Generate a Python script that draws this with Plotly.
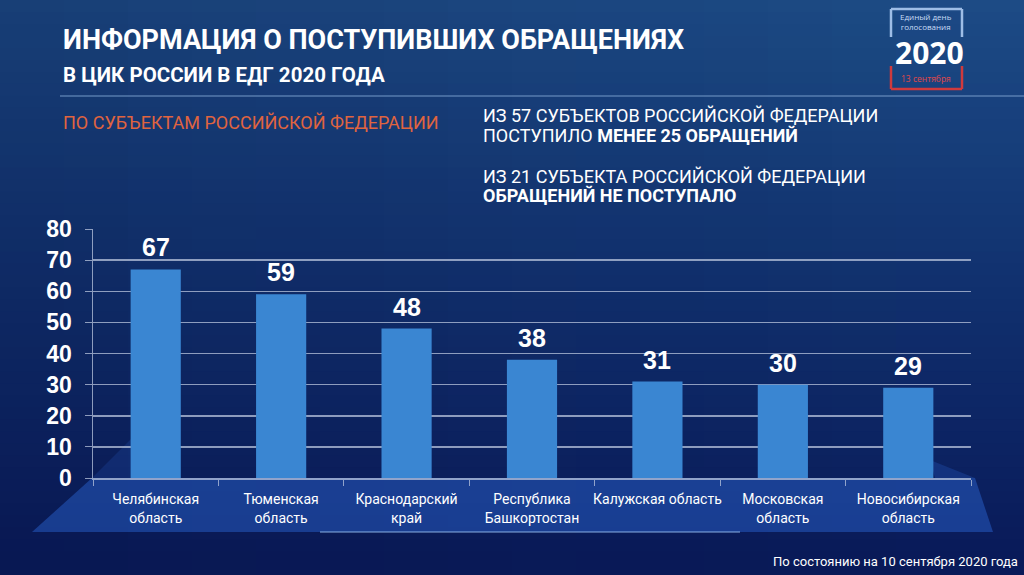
import plotly.graph_objects as go

# ---------------- data ----------------
regions = ["Челябинская<br>область", "Тюменская<br>область", "Краснодарский<br>край",
           "Республика<br>Башкортостан", "Калужская область", "Московская<br>область",
           "Новосибирская<br>область"]
appeals = [67, 59, 48, 38, 31, 30, 29]
y_ticks = [0, 10, 20, 30, 40, 50, 60, 70, 80]

title_main = "ИНФОРМАЦИЯ О ПОСТУПИВШИХ ОБРАЩЕНИЯХ"
title_sub = "В ЦИК РОССИИ В ЕДГ 2020 ГОДА"
subtitle_left = "ПО СУБЪЕКТАМ РОССИЙСКОЙ ФЕДЕРАЦИИ"
note_1a = "ИЗ 57 СУБЪЕКТОВ РОССИЙСКОЙ ФЕДЕРАЦИИ"
note_1b = "ПОСТУПИЛО <b>МЕНЕЕ 25 ОБРАЩЕНИЙ</b>"
note_2a = "ИЗ 21 СУБЪЕКТА РОССИЙСКОЙ ФЕДЕРАЦИИ"
note_2b = "<b>ОБРАЩЕНИЙ НЕ ПОСТУПАЛО</b>"
footnote = "По состоянию на 10 сентября 2020 года"
logo_top = "Единый день<br>голосования"
logo_year = "2020"
logo_date = "13 сентября"

# ---------------- layout geometry ----------------
W, H = 1024, 575
L, R, T, B = 93, 971, 229, 478

def px(x):
    return (x - L) / (R - L)

def py(y):
    return (B - y) / (B - T)

NARROW = "Roboto, Liberation Sans Narrow, sans-serif"
ARIAL = "Liberation Sans, Arial, sans-serif"

fig = go.Figure()
fig.add_trace(go.Bar(
    x=regions, y=appeals,
    marker=dict(color="#3a86d2", line=dict(width=0)),
    width=0.4,
    hoverinfo="skip",
))

shapes = []
# background gradient (vertical bands)
top_c = (30, 77, 135)
mid_c = (18, 50, 112)
bot_c = (10, 27, 90)
n = 48
for i in range(n):
    t = i / (n - 1)
    if t < 0.5:
        u = t / 0.5
        c = tuple(int(top_c[k] + (mid_c[k] - top_c[k]) * u) for k in range(3))
    else:
        u = (t - 0.5) / 0.5
        c = tuple(int(mid_c[k] + (bot_c[k] - mid_c[k]) * u) for k in range(3))
    y0 = H * i / n
    y1 = H * (i + 1) / n + 1
    shapes.append(dict(type="rect", xref="paper", yref="paper",
                       x0=px(0), x1=px(W), y0=py(y1), y1=py(y0),
                       fillcolor="rgb(%d,%d,%d)" % c, line=dict(width=0), layer="below"))
# horizontal darkening toward the left
m = 16
for i in range(m):
    a = 0.22 * (1 - i / m)
    shapes.append(dict(type="rect", xref="paper", yref="paper",
                       x0=px(W * i / m), x1=px(W * (i + 1) / m), y0=py(H), y1=py(0),
                       fillcolor="rgba(5,15,60,%.3f)" % a, line=dict(width=0), layer="below"))

def path(pts):
    return "M " + " L ".join("%f,%f" % (px(a), py(b)) for a, b in pts) + " Z"

# floor trapezoid
shapes.append(dict(type="path", xref="paper", yref="paper",
                   path=path([(32, 532), (92, 478), (975, 478), (993, 532)]),
                   fillcolor="rgba(45,105,215,0.45)", line=dict(width=0), layer="below"))
shapes.append(dict(type="path", xref="paper", yref="paper",
                   path=path([(92, 478), (140, 430), (160, 478)]),
                   fillcolor="rgba(45,105,215,0.18)", line=dict(width=0), layer="below"))
shapes.append(dict(type="path", xref="paper", yref="paper",
                   path=path([(930, 460), (975, 478), (935, 478)]),
                   fillcolor="rgba(45,105,215,0.25)", line=dict(width=0), layer="below"))
shapes.append(dict(type="line", xref="paper", yref="paper",
                   x0=px(320), x1=px(740), y0=py(532), y1=py(532),
                   line=dict(color="rgba(150,190,240,0.45)", width=2), layer="below"))
# header separator
shapes.append(dict(type="line", xref="paper", yref="paper",
                   x0=px(60), x1=px(W), y0=py(96), y1=py(96),
                   line=dict(color="rgba(140,175,220,0.55)", width=1.5), layer="below"))
# logo frame
blue_l = "#9ebde6"
red_l = "#cf3a3d"
shapes += [
    dict(type="line", xref="paper", yref="paper", x0=px(891), x1=px(962), y0=py(9), y1=py(9),
         line=dict(color=blue_l, width=2.5)),
    dict(type="line", xref="paper", yref="paper", x0=px(891), x1=px(891), y0=py(9), y1=py(37),
         line=dict(color=blue_l, width=2.5)),
    dict(type="line", xref="paper", yref="paper", x0=px(962), x1=px(962), y0=py(9), y1=py(37),
         line=dict(color=blue_l, width=2.5)),
    dict(type="line", xref="paper", yref="paper", x0=px(891), x1=px(891), y0=py(66), y1=py(89),
         line=dict(color=red_l, width=2.5)),
    dict(type="line", xref="paper", yref="paper", x0=px(962), x1=px(962), y0=py(66), y1=py(89),
         line=dict(color=red_l, width=2.5)),
    dict(type="line", xref="paper", yref="paper", x0=px(891), x1=px(962), y0=py(89), y1=py(89),
         line=dict(color=red_l, width=2.5)),
]

ann = []

def txt(text, x, y, size, color="white", family=NARROW, xanchor="left", yanchor="middle"):
    ann.append(dict(text=text, xref="paper", yref="paper", x=px(x), y=py(y),
                    xanchor=xanchor, yanchor=yanchor, showarrow=False, borderpad=0,
                    font=dict(size=size, color=color, family=family)))

txt("<b>" + title_main + "</b>", 62, 40, 27)
txt("<b>" + title_sub + "</b>", 62, 75, 20.5)
txt(subtitle_left, 62, 122, 18, color="#e0643f")
txt(note_1a, 482, 116, 18)
txt(note_1b, 482, 135, 18)
txt(note_2a, 482, 176, 18)
txt(note_2b, 482, 196, 18)
txt(footnote, 1019, 561, 13, xanchor="right")
# logo text
LF = "Open Sans, sans-serif"
txt(logo_top, 926, 21, 8, color="#c8dcf5", family=LF, xanchor="center")
txt("<b>" + logo_year + "</b>", 929, 52, 30, family=LF, xanchor="center")
txt(logo_date, 926, 78, 8.5, color="#e0474a", family=LF, xanchor="center")

# value labels
for cat, v in zip(regions, appeals):
    ann.append(dict(text="<b>%d</b>" % v, x=cat, y=v, xref="x", yref="y",
                    yanchor="bottom", yshift=6, showarrow=False,
                    font=dict(size=25, color="white", family=ARIAL)))

grid_c = "rgba(185,198,222,0.75)"
fig.update_layout(
    width=W, height=H,
    margin=dict(l=L, r=W - R, t=T, b=H - B, pad=0),
    paper_bgcolor="#133470",
    plot_bgcolor="rgba(0,0,0,0)",
    showlegend=False,
    shapes=shapes,
    annotations=ann,
    xaxis=dict(
        type="category",
        tickson="boundaries",
        ticks="outside", ticklen=6, tickcolor=grid_c,
        showline=True, linecolor=grid_c, linewidth=1.5,
        showgrid=False,
        tickangle=0,
        ticklabelstandoff=8,
        tickfont=dict(size=14, color="white", family=NARROW),
        fixedrange=True,
    ),
    yaxis=dict(
        range=[0, 80],
        tickvals=y_ticks,
        ticks="outside", ticklen=7, tickcolor=grid_c,
        showgrid=True, gridcolor=grid_c, gridwidth=1.5,
        showline=True, linecolor=grid_c, linewidth=1.5,
        zeroline=False,
        tickfont=dict(size=23, color="white", family=ARIAL, weight="bold"),
        ticklabelstandoff=8,
        fixedrange=True,
    ),
)
fig.update_traces(cliponaxis=False)

fig.write_html("out.html",
               config={"displayModeBar": False, "staticPlot": True},
               post_script="document.body.style.margin='0';document.body.style.padding='0';document.body.style.overflow='hidden';")
